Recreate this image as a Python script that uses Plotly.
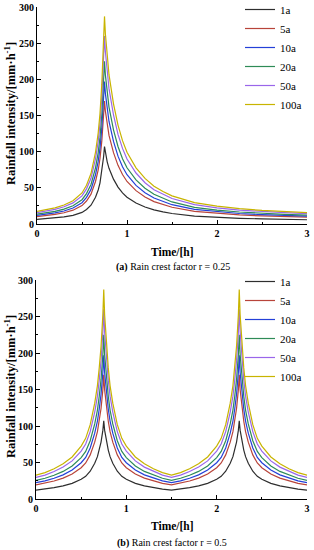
import plotly.graph_objects as go

# ---------------- data ----------------
series_names = ["1a", "5a", "10a", "20a", "50a", "100a"]
colors = ["#2e2e2e", "#b8443a", "#2440d8", "#2e8b57", "#9a66ea", "#c8b400"]

# (a) rain crest factor r = 0.25
time_a = [0, 0.1, 0.2, 0.3, 0.4, 0.5, 0.55, 0.6, 0.65, 0.68, 0.7, 0.72, 0.74, 0.75,
          0.76, 0.78, 0.8, 0.85, 0.9, 0.95, 1.0, 1.1, 1.2, 1.3, 1.4, 1.5, 1.75,
          2.0, 2.25, 2.5, 2.75, 3.0]
a_1a = [6.5, 7.3, 8.3, 9.8, 12, 16, 20, 26, 37, 47, 57, 72, 93, 107,
        98, 86, 77, 62, 51, 43, 37, 29, 23.5, 19.5, 16.8, 14.5, 11,
        9.2, 7.9, 7, 6.4, 5.9]
a_5a = [10.3, 11.6, 13.2, 15.6, 19.1, 25.4, 31.8, 41.3, 58.8, 74.7, 90.6, 114.5, 147.9, 170,
        155.8, 136.7, 122.4, 98.6, 81.1, 68.4, 58.8, 46.1, 37.4, 31, 26.7, 23.1, 17.5,
        14.6, 12.6, 11.1, 10.2, 9.4]
a_10a = [12, 13.4, 15.3, 18, 22.1, 29.4, 36.8, 47.8, 68.1, 86.5, 104.9, 132.5, 171.1, 197,
         180.3, 158.2, 141.7, 114.1, 93.8, 79.1, 68.1, 53.4, 43.2, 35.9, 30.9, 26.7, 20.2,
         16.9, 14.5, 12.9, 11.8, 10.9]
a_20a = [13.7, 15.3, 17.4, 20.6, 25.2, 33.6, 42, 54.6, 77.7, 98.7, 119.7, 151.2, 195.3, 225,
         205.8, 180.6, 161.7, 130.2, 107.1, 90.3, 77.7, 60.9, 49.4, 41, 35.3, 30.5, 23.1,
         19.3, 16.6, 14.7, 13.4, 12.4]
a_50a = [15.8, 17.7, 20.2, 23.8, 29.2, 38.9, 48.6, 63.2, 89.9, 114.2, 138.5, 175, 226, 260,
         238.1, 209, 187.1, 150.7, 123.9, 104.5, 89.9, 70.5, 57.1, 47.4, 40.8, 35.2, 26.7,
         22.4, 19.2, 17, 15.6, 14.3]
a_100a = [17.4, 19.6, 22.2, 26.3, 32.2, 42.9, 53.6, 69.7, 99.2, 126, 152.8, 193, 249.2, 287,
          262.6, 230.5, 206.4, 166.2, 136.7, 115.2, 99.2, 77.7, 63, 52.3, 45, 38.9, 29.5,
          24.7, 21.2, 18.8, 17.2, 15.8]

# (b) rain crest factor r = 0.5
time_b = [0, 0.1, 0.2, 0.3, 0.4, 0.5, 0.55, 0.6, 0.65, 0.68, 0.7, 0.72, 0.74, 0.75,
          0.76, 0.78, 0.8, 0.82, 0.85, 0.9, 0.95, 1.0, 1.1, 1.2, 1.3, 1.4, 1.5,
          1.6, 1.7, 1.8, 1.9, 2.0, 2.05, 2.1, 2.15, 2.18, 2.2, 2.22, 2.24, 2.25,
          2.26, 2.28, 2.3, 2.32, 2.35, 2.4, 2.45, 2.5, 2.6, 2.7, 2.8, 2.9, 3.0]
b_1a = [12.2, 13.5, 15.5, 18, 21.5, 27, 31, 38, 49, 58, 67, 78, 94, 107,
        94, 78, 67, 58, 49, 38, 31, 27, 21.5, 18, 15.5, 13.5, 12.2,
        13.5, 15.5, 18, 21.5, 27, 31, 38, 49, 58, 67, 78, 94, 107,
        94, 78, 67, 58, 49, 38, 31, 27, 21.5, 18, 15.5, 13.5, 12.2]
b_5a = [19.4, 21.5, 24.6, 28.6, 34.2, 42.9, 49.3, 60.4, 77.9, 92.2, 106.5, 124, 149.5, 170,
        149.5, 124, 106.5, 92.2, 77.9, 60.4, 49.3, 42.9, 34.2, 28.6, 24.6, 21.5, 19.4,
        21.5, 24.6, 28.6, 34.2, 42.9, 49.3, 60.4, 77.9, 92.2, 106.5, 124, 149.5, 170,
        149.5, 124, 106.5, 92.2, 77.9, 60.4, 49.3, 42.9, 34.2, 28.6, 24.6, 21.5, 19.4]
b_10a = [22.4, 24.8, 28.5, 33.1, 39.6, 49.7, 57, 69.9, 90.2, 106.7, 123.3, 143.5, 173, 197,
         173, 143.5, 123.3, 106.7, 90.2, 69.9, 57, 49.7, 39.6, 33.1, 28.5, 24.8, 22.4,
         24.8, 28.5, 33.1, 39.6, 49.7, 57, 69.9, 90.2, 106.7, 123.3, 143.5, 173, 197,
         173, 143.5, 123.3, 106.7, 90.2, 69.9, 57, 49.7, 39.6, 33.1, 28.5, 24.8, 22.4]
b_20a = [25.6, 28.4, 32.6, 37.8, 45.2, 56.7, 65.1, 79.8, 102.9, 121.8, 140.7, 163.8, 197.4, 225,
         197.4, 163.8, 140.7, 121.8, 102.9, 79.8, 65.1, 56.7, 45.2, 37.8, 32.6, 28.4, 25.6,
         28.4, 32.6, 37.8, 45.2, 56.7, 65.1, 79.8, 102.9, 121.8, 140.7, 163.8, 197.4, 225,
         197.4, 163.8, 140.7, 121.8, 102.9, 79.8, 65.1, 56.7, 45.2, 37.8, 32.6, 28.4, 25.6]
b_50a = [29.6, 32.8, 37.7, 43.7, 52.2, 65.6, 75.3, 92.3, 119.1, 140.9, 162.8, 189.5, 228.4, 260,
         228.4, 189.5, 162.8, 140.9, 119.1, 92.3, 75.3, 65.6, 52.2, 43.7, 37.7, 32.8, 29.6,
         32.8, 37.7, 43.7, 52.2, 65.6, 75.3, 92.3, 119.1, 140.9, 162.8, 189.5, 228.4, 260,
         228.4, 189.5, 162.8, 140.9, 119.1, 92.3, 75.3, 65.6, 52.2, 43.7, 37.7, 32.8, 29.6]
b_100a = [32.7, 36.2, 41.5, 48.2, 57.6, 72.4, 83.1, 101.8, 131.3, 155.4, 179.6, 209, 251.9, 287,
          251.9, 209, 179.6, 155.4, 131.3, 101.8, 83.1, 72.4, 57.6, 48.2, 41.5, 36.2, 32.7,
          36.2, 41.5, 48.2, 57.6, 72.4, 83.1, 101.8, 131.3, 155.4, 179.6, 209, 251.9, 287,
          251.9, 209, 179.6, 155.4, 131.3, 101.8, 83.1, 72.4, 57.6, 48.2, 41.5, 36.2, 32.7]

x_ticks = [0, 1, 2, 3]
y_ticks = [0, 50, 100, 150, 200, 250, 300]
x_title = "Time/[h]"
y_title = "Rainfall intensity/[mm·h<sup>-1</sup>]"
caption_a = "<b>(a)</b> Rain crest factor r = 0.25"
caption_b = "<b>(b)</b> Rain crest factor r = 0.5"

# ---------------- figure ----------------
W, H = 314, 550
SERIF = "Liberation Serif"

fig = go.Figure()
series_a = [a_1a, a_5a, a_10a, a_20a, a_50a, a_100a]
series_b = [b_1a, b_5a, b_10a, b_20a, b_50a, b_100a]
for name, col, ys in zip(series_names, colors, series_a):
    fig.add_trace(go.Scatter(x=time_a, y=ys, mode="lines", name=name,
                             line=dict(color=col, width=1.2),
                             xaxis="x", yaxis="y", legend="legend"))
for name, col, ys in zip(series_names, colors, series_b):
    fig.add_trace(go.Scatter(x=time_b, y=ys, mode="lines", name=name,
                             line=dict(color=col, width=1.2),
                             xaxis="x2", yaxis="y2", legend="legend2"))

def px_x(p):
    return p / W

def px_y(p):
    return 1 - p / H

xdom_a = [px_x(37), px_x(307)]
ydom_a = [px_y(224), px_y(7)]
xdom_b = [px_x(36), px_x(307)]
ydom_b = [px_y(499), px_y(280)]

tickfont = dict(family=SERIF, size=10, color="black")
common_x = dict(range=[0, 3], tickvals=x_ticks, ticktext=[f"<b>{v}</b>" for v in x_ticks],
                ticks="inside", ticklen=4, tickwidth=1, tickcolor="black",
                minor=dict(dtick=0.5, ticks="inside", ticklen=2, tickcolor="black"),
                showline=True, linecolor="black", linewidth=1, mirror=False,
                showgrid=False, zeroline=False, tickfont=tickfont, fixedrange=True,
                ticklabeloverflow="allow", automargin=False)
common_y = dict(range=[0, 300], tickvals=y_ticks, ticktext=[f"<b>{v}</b>" for v in y_ticks],
                ticks="inside", ticklen=4, tickwidth=1, tickcolor="black",
                minor=dict(dtick=25, ticks="inside", ticklen=2, tickcolor="black"),
                showline=True, linecolor="black", linewidth=1, mirror=False,
                showgrid=False, zeroline=False, tickfont=tickfont, fixedrange=True,
                ticklabeloverflow="allow", automargin=False)

legend_common = dict(font=dict(family=SERIF, size=11, color="black"),
                     bgcolor="rgba(0,0,0,0)", borderwidth=0, xanchor="left",
                     yanchor="top", tracegroupgap=0, itemwidth=30)

fig.update_layout(
    width=W, height=H, autosize=False,
    margin=dict(l=0, r=0, t=0, b=0, autoexpand=False),
    paper_bgcolor="white", plot_bgcolor="white",
    font=dict(family=SERIF, color="black"),
    xaxis=dict(domain=xdom_a, anchor="y", **common_x),
    yaxis=dict(domain=ydom_a, anchor="x", **common_y),
    xaxis2=dict(domain=xdom_b, anchor="y2", **common_x),
    yaxis2=dict(domain=ydom_b, anchor="x2", **common_y),
    legend=dict(x=px_x(240), y=px_y(-5), **legend_common),
    legend2=dict(x=px_x(240), y=px_y(267), **legend_common),
    showlegend=True,
)

ann_font_bold = dict(family=SERIF, size=11.5, color="black")
ytitle_font = dict(family=SERIF, size=12.5, color="black")
annotations = [
    dict(text=f"<b>{x_title}</b>", x=px_x(172), y=px_y(252), font=ann_font_bold),
    dict(text=f"<b>{x_title}</b>", x=px_x(172), y=px_y(526), font=ann_font_bold),
    dict(text=f"<b>{y_title}</b>", x=px_x(10), y=px_y(114), textangle=-90, font=ytitle_font),
    dict(text=f"<b>{y_title}</b>", x=px_x(10), y=px_y(387), textangle=-90, font=ytitle_font),
    dict(text=caption_a, x=px_x(173), y=px_y(267), font=dict(family=SERIF, size=10, color="black")),
    dict(text=caption_b, x=px_x(172), y=px_y(543), font=dict(family=SERIF, size=10, color="black")),
]
for a in annotations:
    a.update(xref="paper", yref="paper", showarrow=False, xanchor="center", yanchor="middle")
fig.update_layout(annotations=annotations)

# remove the default 8px page margin so the figure fills the window exactly
fig.write_html("out.html",
               config={"displayModeBar": False, "staticPlot": True},
               post_script="document.body.style.margin='0';document.body.style.overflow='hidden';")
